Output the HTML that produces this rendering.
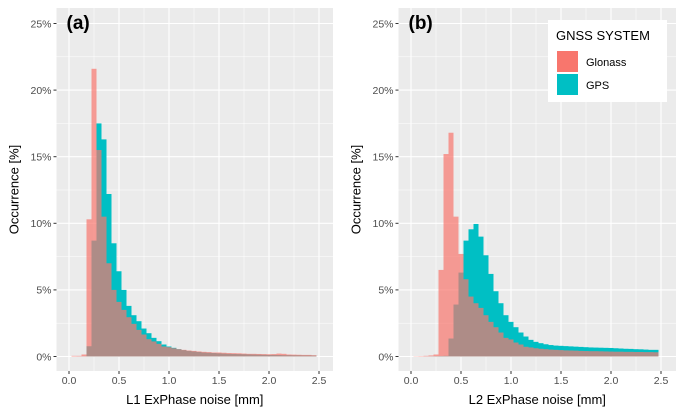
<!DOCTYPE html>
<html><head><meta charset="utf-8"><style>
html,body{margin:0;padding:0;background:#fff;}
svg{display:block;font-family:"Liberation Sans",sans-serif;}
</style></head><body>
<svg id="chart" width="684" height="417" viewBox="0 0 684 417" xmlns="http://www.w3.org/2000/svg"></svg>
<script>
// bin centers (mm), bin width 0.05
const binsA = [0.05,0.1,0.15,0.2,0.25,0.3,0.35,0.4,0.45,0.5,0.55,0.6,0.65,0.7,0.75,0.8,0.85,0.9,0.95,1.0,1.05,1.1,1.15,1.2,1.25,1.3,1.35,1.4,1.45,1.5,1.55,1.6,1.65,1.7,1.75,1.8,1.85,1.9,1.95,2.0,2.05,2.1,2.15,2.2,2.25,2.3,2.35,2.4,2.45];
const glonassA = [0.05,0.05,0.15,10.3,21.6,15.5,10.5,7.0,5.0,4.1,3.5,2.95,2.45,2.0,1.65,1.3,1.13,0.95,0.75,0.7,0.62,0.55,0.5,0.45,0.42,0.38,0.35,0.33,0.3,0.3,0.28,0.26,0.25,0.24,0.22,0.2,0.2,0.19,0.18,0.17,0.18,0.22,0.2,0.15,0.14,0.13,0.12,0.12,0.1];
const gpsA = [0,0.01,0.02,0.77,8.7,17.5,16.3,12.2,8.5,6.4,5.0,3.8,3.1,2.65,2.1,1.75,1.4,1.15,0.9,0.75,0.65,0.55,0.48,0.42,0.38,0.34,0.3,0.28,0.26,0.24,0.22,0.2,0.19,0.18,0.17,0.16,0.15,0.14,0.13,0.12,0.12,0.11,0.1,0.1,0.09,0.09,0.08,0.08,0.07];
const binsB = [0.05,0.1,0.15,0.2,0.25,0.3,0.35,0.4,0.45,0.5,0.55,0.6,0.65,0.7,0.75,0.8,0.85,0.9,0.95,1.0,1.05,1.1,1.15,1.2,1.25,1.3,1.35,1.4,1.45,1.5,1.55,1.6,1.65,1.7,1.75,1.8,1.85,1.9,1.95,2.0,2.05,2.1,2.15,2.2,2.25,2.3,2.35,2.4,2.45];
const glonassB = [0.02,0.03,0.05,0.08,0.15,6.5,15.2,16.8,10.5,7.7,5.8,4.5,4.0,3.65,3.1,2.6,2.2,1.8,1.4,1.28,1.05,0.9,0.73,0.68,0.62,0.58,0.55,0.52,0.5,0.48,0.46,0.45,0.44,0.42,0.41,0.4,0.4,0.39,0.38,0.37,0.36,0.36,0.35,0.35,0.34,0.34,0.33,0.33,0.32];
const gpsB = [0,0,0.01,0.02,0.03,0.04,0.05,1.35,3.9,6.3,8.7,9.55,9.95,9.0,7.6,6.2,4.9,4.0,3.1,2.6,2.2,1.8,1.5,1.25,1.1,1.0,0.92,0.86,0.82,0.8,0.78,0.76,0.74,0.72,0.7,0.68,0.67,0.66,0.65,0.64,0.62,0.6,0.58,0.57,0.55,0.54,0.52,0.5,0.5];
const xTicks = [0,0.5,1.0,1.5,2.0,2.5];
const xTickLabels = ["0.0","0.5","1.0","1.5","2.0","2.5"];
const yTicks = [0,5,10,15,20,25];
const yTickLabels = ["0%","5%","10%","15%","20%","25%"];

const NS = "http://www.w3.org/2000/svg";
const svg = document.getElementById('chart');
function mk(tag, attrs, parent){const e=document.createElementNS(NS,tag);for(const k in attrs)e.setAttribute(k,attrs[k]);(parent||svg).appendChild(e);return e;}

const PT=8, PB=371;
function yScale(v){return 356.5-v*(333/25);}

function panel(left,right,x0,bins,gl,gp,label,xtitle,name){
  const g=mk('g',{});
  
  
  const xs=v=>x0+v*100;
  const bg=mk('rect',{x:left,y:PT,width:right-left,height:PB-PT,fill:'#EBEBEB'},g);
  
  
  // minor grid
  for(let i=0;i<xTicks.length-1;i++){const v=(xTicks[i]+xTicks[i+1])/2;mk('line',{x1:xs(v),x2:xs(v),y1:PT,y2:PB,stroke:'#fff','stroke-width':0.5},g);}
  for(let i=0;i<yTicks.length-1;i++){const v=(yTicks[i]+yTicks[i+1])/2;mk('line',{x1:left,x2:right,y1:yScale(v),y2:yScale(v),stroke:'#fff','stroke-width':0.5},g);}
  xTicks.forEach((v,i)=>{
    mk('line',{x1:xs(v),x2:xs(v),y1:PT,y2:PB,stroke:'#fff','stroke-width':1.1},g);
    mk('line',{x1:xs(v),x2:xs(v),y1:PB,y2:PB+3,stroke:'#333','stroke-width':1},g);
    const t=mk('text',{x:xs(v),y:PB+13,'text-anchor':'middle','font-size':10.5,fill:'#4D4D4D'},g);
    t.textContent=xTickLabels[i];
    
    
  });
  yTicks.forEach((v,i)=>{
    mk('line',{x1:left,x2:right,y1:yScale(v),y2:yScale(v),stroke:'#fff','stroke-width':1.1},g);
    mk('line',{x1:left-3,x2:left,y1:yScale(v),y2:yScale(v),stroke:'#333','stroke-width':1},g);
    const t=mk('text',{x:left-5,y:yScale(v)+3.8,'text-anchor':'end','font-size':10.5,fill:'#4D4D4D'},g);
    t.textContent=yTickLabels[i];
    
    
  });
  const w=5;
  bins.forEach((b,i)=>{
    if(gp[i]>0){const r=mk('rect',{x:xs(b)-w/2,y:yScale(gp[i]),width:w,height:yScale(0)-yScale(gp[i]),fill:'#00BFC4'},g);
      
      }
  });
  bins.forEach((b,i)=>{
    if(gl[i]>0){const r=mk('rect',{x:xs(b)-w/2,y:yScale(gl[i]),width:w,height:yScale(0)-yScale(gl[i]),fill:'#F8766D','fill-opacity':0.7},g);
      
      }
  });
  const lt=mk('text',{x:left+10,y:29,'font-size':19,'font-weight':'bold',fill:'#000'},g);
  lt.textContent=label;
  
  
  const xt=mk('text',{x:(left+right)/2,y:404,'text-anchor':'middle','font-size':13,fill:'#000'},g);
  xt.textContent=xtitle;
  
  
  const yt=mk('text',{x:0,y:0,'text-anchor':'middle','font-size':13,fill:'#000',transform:`translate(${left-38},${(PT+PB)/2}) rotate(-90)`},g);
  yt.textContent='Occurrence [%]';
  
  
}
panel(56.5,333,69,binsA,glonassA,gpsA,'(a)','L1 ExPhase noise [mm]','panel-a');
panel(398.5,676,411,binsB,glonassB,gpsB,'(b)','L2 ExPhase noise [mm]','panel-b');

// legend
const lg=mk('g',{});


mk('rect',{x:548,y:20,width:119,height:82,fill:'#fff'},lg);
const lt=mk('text',{x:556,y:40,'font-size':13,fill:'#000'},lg);
lt.textContent='GNSS SYSTEM';


[['Glonass','#F8766D',51],['GPS','#00BFC4',74]].forEach(([n,c,y])=>{
  const k=mk('rect',{x:557,y:y,width:21,height:21,fill:c},lg);
  
  
  const t=mk('text',{x:586,y:y+15,'font-size':11,fill:'#000'},lg);
  t.textContent=n;
  
  
});
</script>
</body></html>
